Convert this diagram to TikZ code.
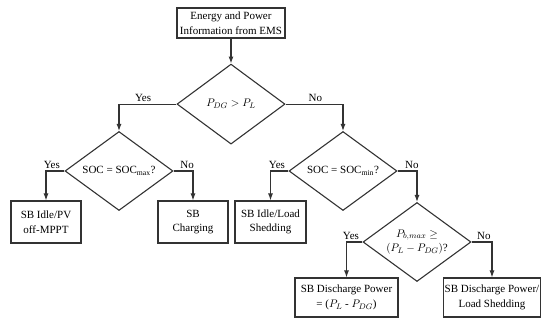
\documentclass[tikz,border=0pt]{standalone}
\usepackage{fontspec}
\setmainfont{Liberation Serif}
\usetikzlibrary{arrows.meta,positioning,calc,shapes.geometric}

\begin{document}
\begin{tikzpicture}[
    x=1pt, y=1pt,
    font=\fontsize{11}{14.5}\selectfont,
    box/.style={
        draw=black!80,
        line width=1.1pt,
        minimum width=70pt,
        minimum height=42pt,
        inner sep=1pt,
        align=center
    },
    dia/.style={
        draw=black!80,
        line width=1.1pt,
        diamond,
        aspect=1.35,
        inner sep=0pt,
        minimum width=108pt,
        minimum height=79pt,
        align=center
    },
    arrow/.style={-{Latex[length=7pt,width=5pt]}, line width=1.1pt, draw=black!80},
    lbl/.style={above, inner sep=1.5pt}
]
\useasboundingbox (0,0) rectangle (541,329);

\node[box, minimum width=108pt, minimum height=30pt] (a) at (231,306) {Energy and Power\\Information from EMS};
\node[dia, minimum height=80pt, below=25pt of a] (b) {$P_{DG} > P_L$};
\node[dia] (c) at (119,158) {SOC = SOC\textsubscript{max}?};
\node[dia] (d) at (343,158) {SOC = SOC\textsubscript{min}?};
\node[dia] (e) at (417,87) {$P_{b,max} \geq$\\$(P_L - P_{DG})$?};

\node[box] (f) at (46,107) {SB Idle/PV\\off-MPPT};
\node[box] (g) at (193,107) {SB\\Charging};
\node[box, minimum width=71pt] (h) at (270.5,107) {SB Idle/Load\\Shedding};
\node[box, minimum width=103pt, minimum height=39pt] (i) at (346.5,31.5) {SB Discharge Power\\= ($P_L$ - $P_{DG}$)};
\node[box, minimum width=97pt, minimum height=39pt] (j) at (492,31.5) {SB Discharge Power/\\Load Shedding};

\draw[arrow] (a) -- (b);
\draw[arrow] (b.west) -| node[lbl, pos=0.29] {Yes} (c.north);
\draw[arrow] (b.east) -| node[lbl, pos=0.26] {No} (d.north);
\draw[arrow] (c.west) -| node[lbl, pos=0.34] {Yes} (f.north);
\draw[arrow] (c.east) -| node[lbl, pos=0.35] {No} (g.north);
\draw[arrow] (d.west) -| node[lbl, pos=0.32] {Yes} (h.north);
\draw[arrow] (d.east) -| node[lbl, pos=0.37] {No} (e.north);
\draw[arrow] (e.west) -| node[lbl, pos=0.36] {Yes} (i.north);
\draw[arrow] (e.east) -| node[lbl, pos=0.3] {No} (j.north);
\end{tikzpicture}
\end{document}
